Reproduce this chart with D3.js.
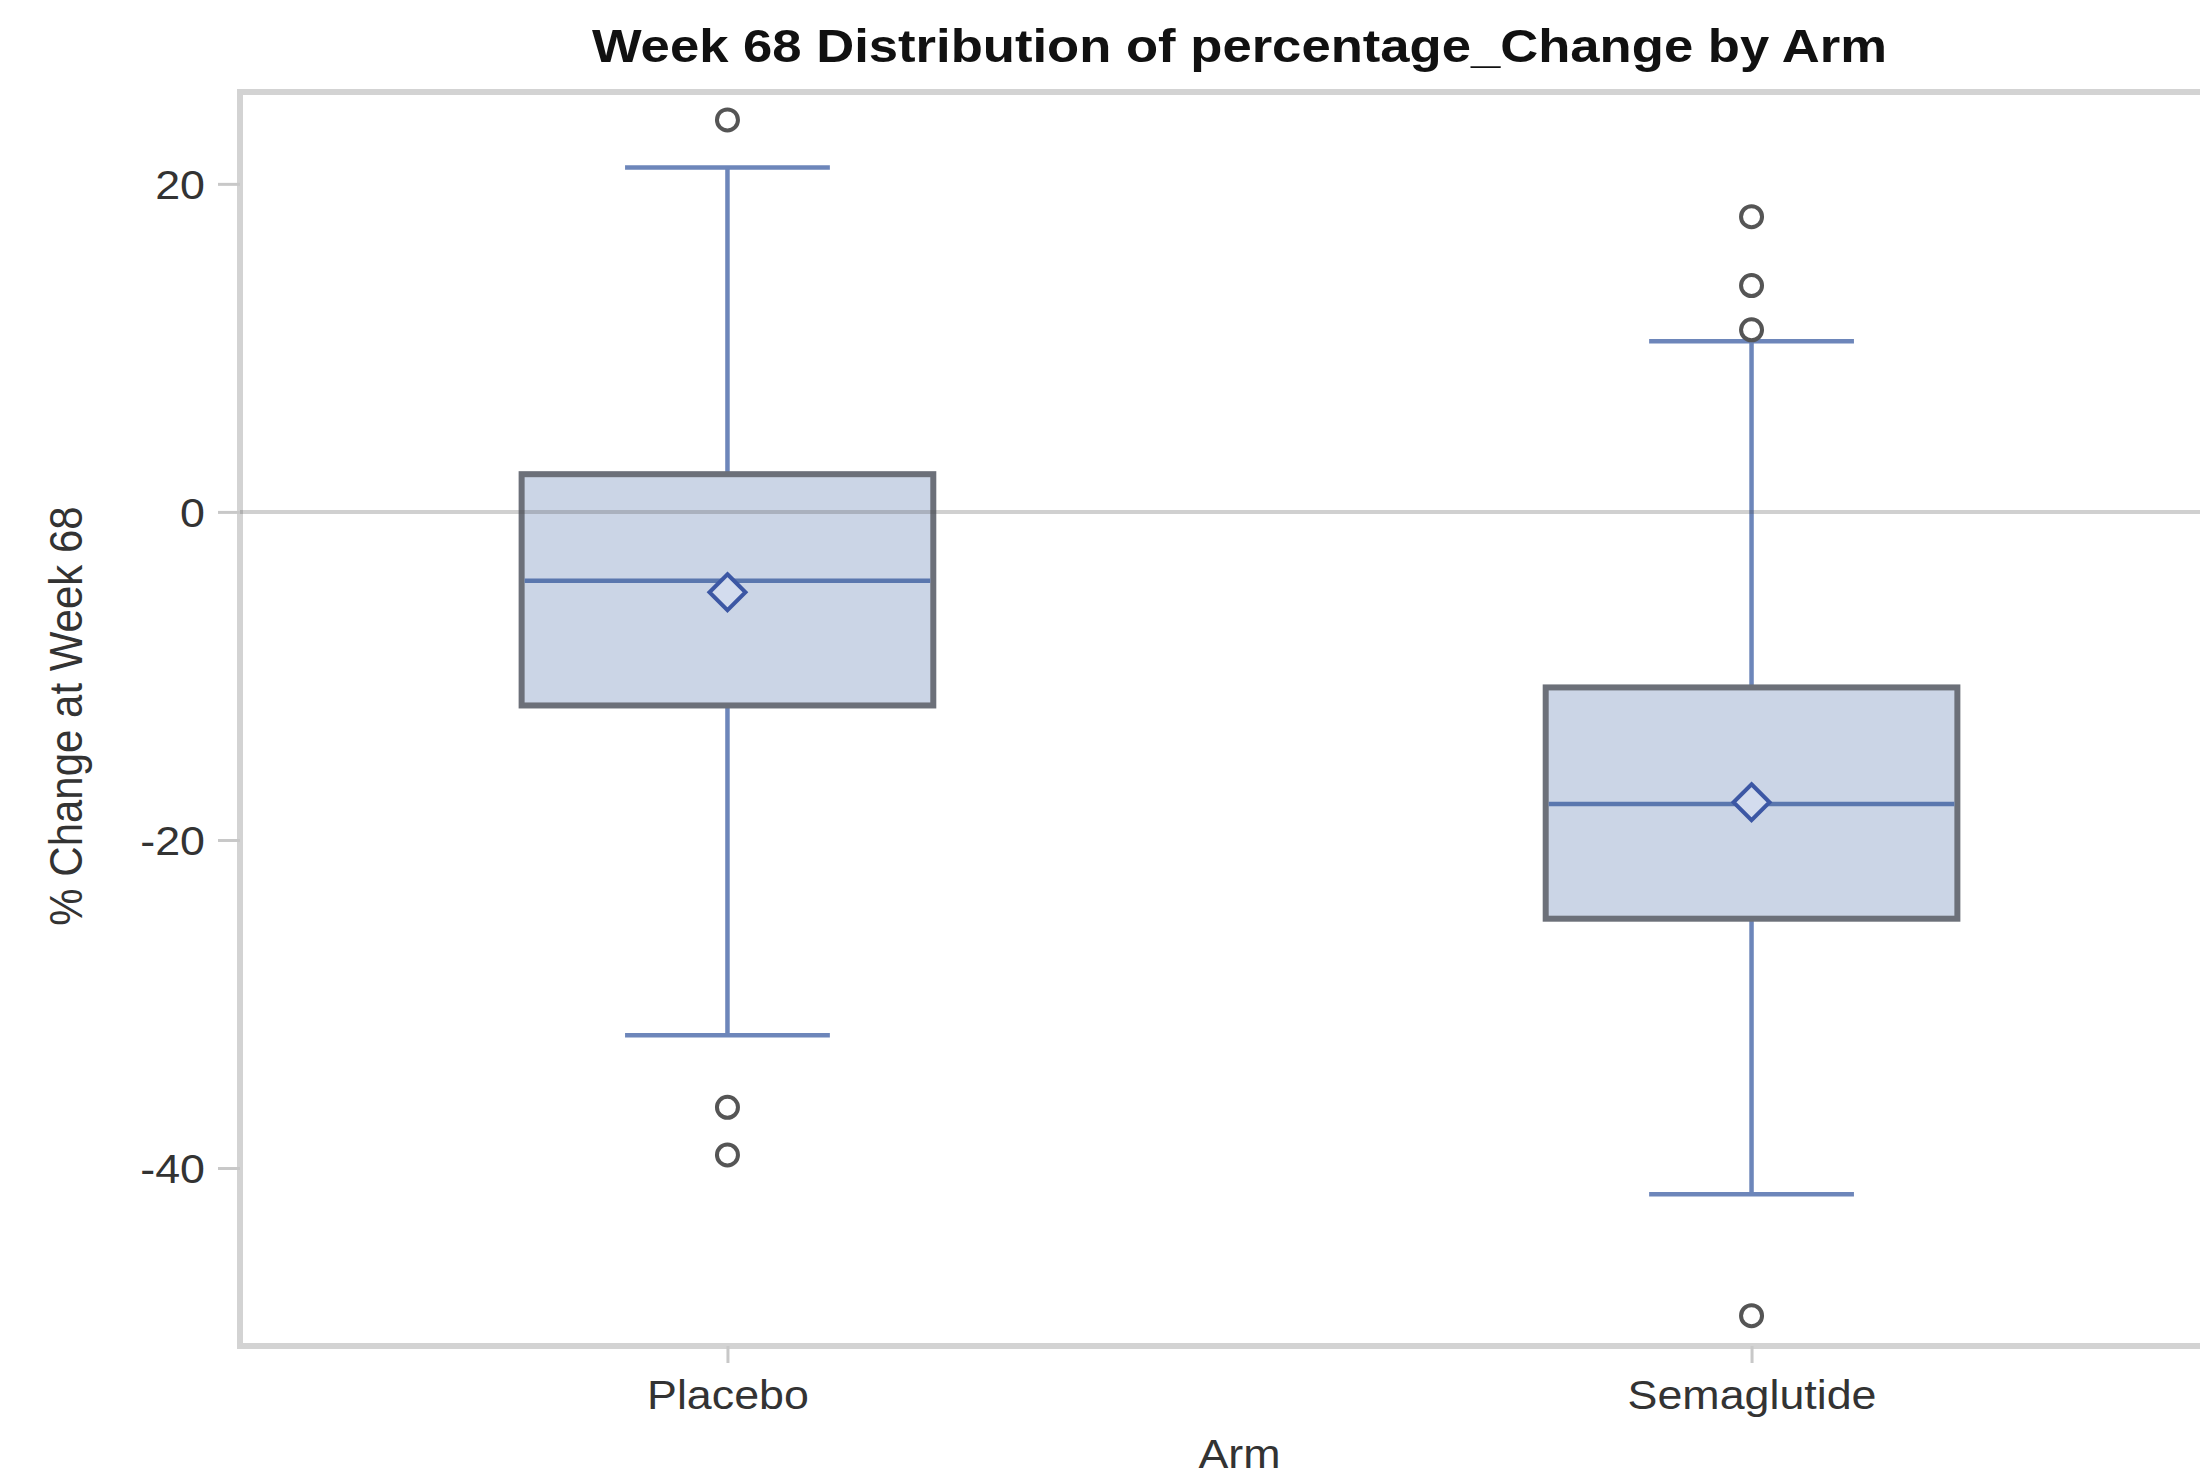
<!DOCTYPE html>
<html>
<head>
<meta charset="utf-8">
<script src="https://cdn.jsdelivr.net/npm/d3@7"></script>
<style>
  body { margin: 0; background: #fff; }
  text { font-family: "Liberation Sans", Arial, sans-serif; }
</style>
</head>
<body>
<script>
const width = 2200;
const height = 1480;

// box plot stats
const arms = ["Placebo", "Semaglutide"];
const q1 = [-11.8, -24.8];
const median = [-4.2, -17.8];
const q3 = [2.3, -10.7];
const mean = [-4.9, -17.7];
const whiskerLow = [-31.9, -41.6];
const whiskerHigh = [21.0, 10.4];
const outliers = [[23.9, -36.3, -39.2], [18.0, 13.8, 11.1, -49.0]];
const yTicks = [-40, -20, 0, 20];

const stretch = 1.12; // text in the source is a bit wide
const plot = {left: 240, top: 92, right: 2239, bottom: 1346};

const svg = d3.select("body")
  .append("svg")
  .attr("width", width)
  .attr("height", height);

const x = d3.scalePoint()
  .domain(arms)
  .range([plot.left, plot.right])
  .padding(0.476);

const y = d3.scaleLinear()
  .domain([-50.85, 25.6])
  .range([plot.bottom, plot.top]);

const step = x.step();
const boxW = step * 0.402;
const capW = step * 0.2;
const blue = "#6d86ba";

// frame
svg.append("rect")
  .attr("x", plot.left)
  .attr("y", plot.top)
  .attr("width", plot.right - plot.left)
  .attr("height", plot.bottom - plot.top)
  .attr("fill", "none")
  .attr("stroke", "#d3d3d3")
  .attr("stroke-width", 6);

// axes
const yAxis = svg.append("g")
  .attr("transform", `translate(${plot.left},0)`)
  .call(d3.axisLeft(y).tickValues(yTicks).tickSize(22).tickFormat(d => String(d)));
yAxis.select(".domain").remove();
yAxis.selectAll("line").attr("stroke", "#c8c8c8").attr("stroke-width", 3);
yAxis.selectAll("text")
  .attr("x", 0)
  .attr("dy", "0.36em")
  .attr("transform", `translate(-35,0) scale(${stretch},1)`)
  .attr("fill", "#333")
  .style("font-size", "40px");

const xAxis = svg.append("g")
  .attr("transform", `translate(0,${plot.bottom})`)
  .call(d3.axisBottom(x).tickSize(17));
xAxis.select(".domain").remove();
xAxis.selectAll("line").attr("stroke", "#c8c8c8").attr("stroke-width", 3);
xAxis.selectAll("text")
  .attr("y", 0)
  .attr("dy", 0)
  .attr("transform", `translate(0,63) scale(${stretch},1)`)
  .attr("fill", "#333")
  .style("font-size", "40px");

const boxes = svg.append("g")
  .selectAll("g")
  .data(arms)
  .join("g")
  .attr("transform", d => `translate(${x(d)},0)`);

// whiskers
boxes.append("line")
  .attr("y1", (d, i) => y(whiskerHigh[i]))
  .attr("y2", (d, i) => y(q3[i]))
  .attr("stroke", blue).attr("stroke-width", 4.5);
boxes.append("line")
  .attr("y1", (d, i) => y(q1[i]))
  .attr("y2", (d, i) => y(whiskerLow[i]))
  .attr("stroke", blue).attr("stroke-width", 4.5);
boxes.append("line")
  .attr("x1", -capW / 2).attr("x2", capW / 2)
  .attr("y1", (d, i) => y(whiskerHigh[i]))
  .attr("y2", (d, i) => y(whiskerHigh[i]))
  .attr("stroke", blue).attr("stroke-width", 4.5);
boxes.append("line")
  .attr("x1", -capW / 2).attr("x2", capW / 2)
  .attr("y1", (d, i) => y(whiskerLow[i]))
  .attr("y2", (d, i) => y(whiskerLow[i]))
  .attr("stroke", blue).attr("stroke-width", 4.5);

// box
boxes.append("rect")
  .attr("x", -boxW / 2)
  .attr("width", boxW)
  .attr("y", (d, i) => y(q3[i]))
  .attr("height", (d, i) => y(q1[i]) - y(q3[i]))
  .attr("fill", "#cbd5e6")
  .attr("stroke", "#6c7079")
  .attr("stroke-width", 6);

// zero reference line, drawn over the boxes
svg.append("line")
  .attr("x1", plot.left).attr("x2", plot.right)
  .attr("y1", y(0)).attr("y2", y(0))
  .attr("stroke", "rgba(80,80,80,0.27)")
  .attr("stroke-width", 4);

// median
boxes.append("line")
  .attr("x1", -boxW / 2 + 3).attr("x2", boxW / 2 - 3)
  .attr("y1", (d, i) => y(median[i]))
  .attr("y2", (d, i) => y(median[i]))
  .attr("stroke", "#5a77ae").attr("stroke-width", 4.5);

// mean diamond
boxes.append("path")
  .attr("d", (d, i) => {
    const c = y(mean[i]), r = 18;
    return `M0,${c - r}L${r},${c}L0,${c + r}L${-r},${c}Z`;
  })
  .attr("fill", "#d3dcee")
  .attr("stroke", "#3c57a4")
  .attr("stroke-width", 4);

// outliers
boxes.selectAll("circle")
  .data((d, i) => outliers[i])
  .join("circle")
  .attr("cx", 0)
  .attr("cy", d => y(d))
  .attr("r", 10.5)
  .attr("fill", "none")
  .attr("stroke", "#555")
  .attr("stroke-width", 4);

// titles
const cx = (plot.left + plot.right) / 2;
svg.append("text")
  .attr("transform", `translate(${cx},62) scale(${stretch},1)`)
  .attr("text-anchor", "middle")
  .style("font-size", "47px")
  .style("font-weight", "bold")
  .attr("fill", "#111")
  .text("Week 68 Distribution of percentage_Change by Arm");

svg.append("text")
  .attr("transform", `translate(${cx},1468) scale(${stretch},1)`)
  .attr("text-anchor", "middle")
  .style("font-size", "40px")
  .attr("fill", "#333")
  .text("Arm");

svg.append("text")
  .attr("transform", `translate(82,716) scale(${stretch},1) rotate(-90)`)
  .attr("text-anchor", "middle")
  .style("font-size", "42px")
  .attr("fill", "#333")
  .text("% Change at Week 68");
</script>
</body>
</html>
